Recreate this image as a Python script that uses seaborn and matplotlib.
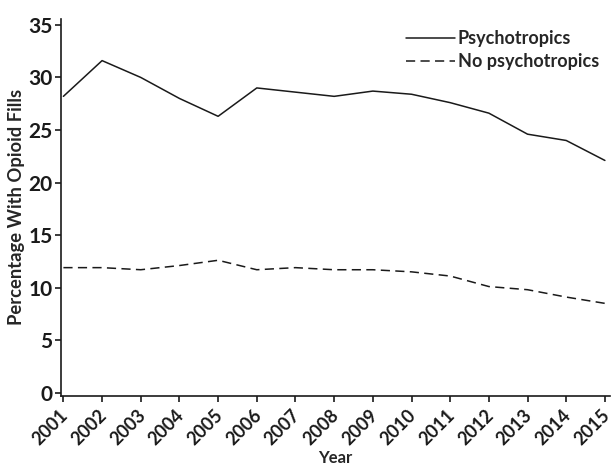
import matplotlib
matplotlib.use("Agg")
import matplotlib.pyplot as plt
import matplotlib.transforms as mtransforms
import seaborn as sns
import pandas as pd

years = list(range(2001, 2016))
psychotropics = [28.2, 31.6, 30.0, 28.0, 26.3, 29.0, 28.6, 28.2, 28.7, 28.4,
                 27.6, 26.6, 24.6, 24.0, 22.1]
no_psychotropics = [11.9, 11.9, 11.7, 12.1, 12.6, 11.7, 11.9, 11.7, 11.7, 11.5,
                    11.1, 10.1, 9.8, 9.1, 8.5]
y_ticks = [0, 5, 10, 15, 20, 25, 30, 35]

df = pd.DataFrame({
    "Year": years * 2,
    "Percentage": psychotropics + no_psychotropics,
    "Group": ["Psychotropics"] * len(years) + ["No psychotropics"] * len(years),
})

sns.set_style("ticks")
plt.rcParams["font.family"] = ["Lato", "DejaVu Sans"]
plt.rcParams["font.weight"] = "bold"
plt.rcParams["axes.labelweight"] = "bold"

fig = plt.figure(figsize=(6.13, 4.66), dpi=100)
ax = fig.add_axes([0.099, 0.151, 0.896, 0.808])

sns.lineplot(data=df, x="Year", y="Percentage", style="Group", color="#1a1a1a",
             dashes={"Psychotropics": "", "No psychotropics": (6, 3.5)},
             linewidth=1.1, ax=ax)

ax.set_xlim(2000.93, 2015.13)
ax.set_ylim(-0.28, 35.55)
ax.set_yticks(y_ticks)
ax.set_xticks(years)
ax.set_xticklabels([str(y) for y in years], rotation=45, ha="right", va="center",
                   rotation_mode="anchor", fontsize=13, fontweight="bold")
ax.tick_params(axis="y", labelsize=15, length=4, width=1.2, pad=2, colors="#1a1a1a")
ax.tick_params(axis="x", length=4, width=1.2, pad=7, colors="#1a1a1a")
for lab in ax.get_yticklabels():
    lab.set_fontweight("bold")

# nudge the rotated year labels a little right/down so they hang off the ticks
shift = mtransforms.ScaledTranslation(0.02, -0.02, fig.dpi_scale_trans)
for lab in ax.get_xticklabels():
    lab.set_transform(lab.get_transform() + shift)

ax.set_xlabel("Year", fontsize=12, fontweight="bold")
ax.xaxis.set_label_coords(0.5, -0.145)
ax.set_ylabel("Percentage With Opioid Fills", fontsize=13.2, fontweight="bold", labelpad=2)

for side in ["top", "right"]:
    ax.spines[side].set_visible(False)
for side in ["left", "bottom"]:
    ax.spines[side].set_linewidth(1.2)
    ax.spines[side].set_color("#1a1a1a")

leg = ax.legend(loc="upper right", frameon=False, fontsize=13, handlelength=2.7,
                handletextpad=0.15, labelspacing=0.35, borderaxespad=0.2,
                bbox_to_anchor=(1.0, 1.0))
for t in leg.get_texts():
    t.set_fontweight("bold")

fig.savefig("out.png", dpi=100)
